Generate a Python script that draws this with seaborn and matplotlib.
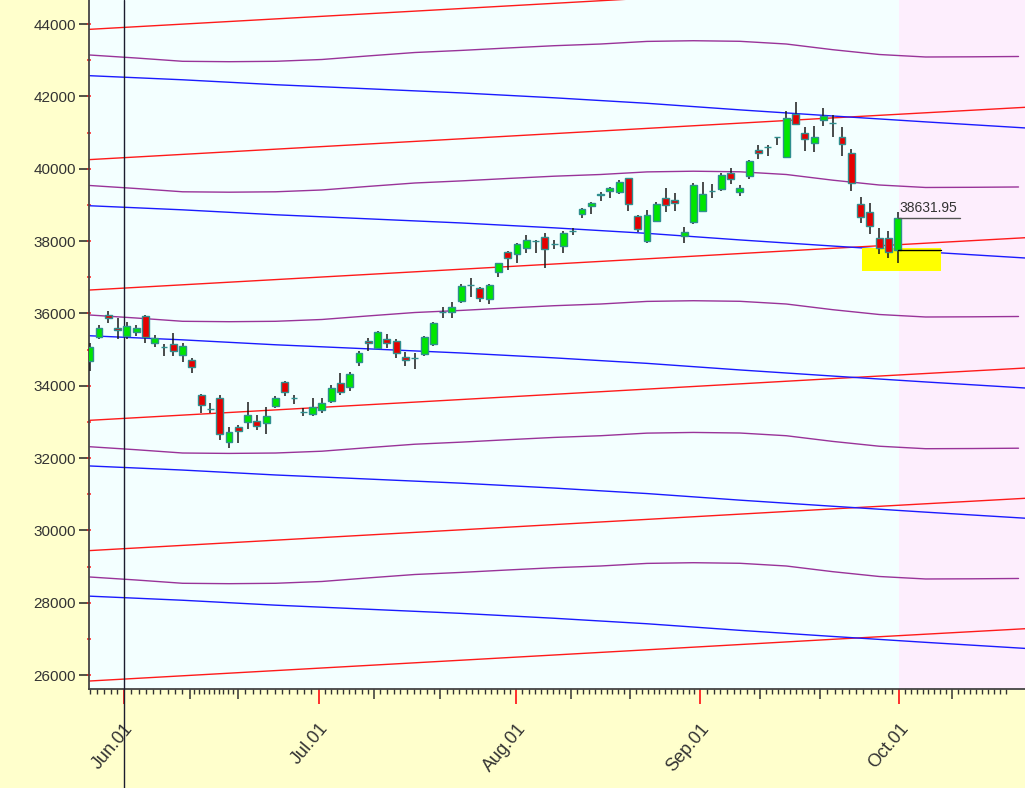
import numpy as np
import pandas as pd
import matplotlib.pyplot as plt
import matplotlib.transforms as mtransforms
from matplotlib.patches import Rectangle
import seaborn as sns

# daily candles, x = session number (0 = first session on the chart)
opens = [34690, 35353, 35954, 35602, 35381, 35492, 35934, 35171, 35062, 35143,
         34848, 34709, 33742, 33356, 33667, 32434, 32865, 33003, 33031, 32976,
         33437, 34109, 33652, 33272, 33208, 33327, 33576, 34081, 33971, 34662,
         35243, 35050, 35290, 35243, 34801, 34757, 34875, 35143, 36043, 36045,
         36349, 36781, 36692, 36388, 37151, 37704, 37632, 37814, 37998, 38119,
         37919, 37861, 38272, 38738, 38968, 39283, 39390, 39346, 39733, 38699,
         38000, 38561, 39180, 39133, 38138, 38533, 38838, 39372, 39429, 39872,
         39363, 39805, 40516, 40588, 40865, 40314, 41511, 40977, 40701, 41345,
         41256, 40884, 40441, 39023, 38810, 38074, 38074, 37751]
highs = [35188, 35677, 36064, 35862, 35752, 35677, 35954, 35400, 35143, 35448,
         35188, 34773, 33761, 33529, 33742, 32865, 32912, 33557, 33188, 33401,
         33714, 34129, 33742, 33374, 33650, 33650, 34018, 34342, 34369, 34967,
         35309, 35511, 35428, 35290, 34939, 34894, 35373, 35769, 36166, 36305,
         36802, 36985, 36720, 36802, 37400, 37723, 37936, 38166, 38027, 38212,
         38027, 38285, 38367, 38904, 39087, 39359, 39501, 39686, 39750, 38719,
         38857, 39087, 39456, 39318, 38377, 39594, 39639, 39576, 39872, 40010,
         39548, 40239, 40654, 40654, 40884, 41594, 41835, 41143, 41179, 41669,
         41483, 41143, 40535, 39207, 39042, 38350, 38276, 38793]
lows = [34413, 35282, 35724, 35282, 35282, 35381, 35171, 35077, 34820, 34828,
        34662, 34342, 33235, 33235, 32497, 32268, 32406, 32801, 32774, 32663,
        33373, 33714, 33485, 33169, 33169, 33235, 33512, 33742, 33861, 34552,
        34967, 35012, 35032, 34755, 34552, 34460, 34820, 35096, 35862, 35862,
        36277, 36459, 36305, 36249, 37013, 37198, 37383, 37677, 37677, 37245,
        37770, 37659, 38166, 38627, 38738, 39114, 39180, 39290, 38840, 38240,
        37936, 38517, 38810, 38829, 37936, 38461, 38794, 39180, 39390, 39567,
        39252, 39714, 40267, 40350, 40654, 40286, 41207, 40497, 40452, 41188,
        40867, 40358, 39390, 38489, 38185, 37632, 37521, 37383]
closes = [35077, 35602, 35879, 35539, 35641, 35602, 35337, 35326, 35057, 34967,
          35088, 34524, 33465, 33352, 32663, 32727, 32746, 33188, 32884, 33161,
          33650, 33833, 33648, 33272, 33419, 33529, 33943, 33833, 34322, 34911,
          35171, 35475, 35188, 34894, 34709, 34753, 35354, 35741, 36047, 36183,
          36755, 36785, 36415, 36783, 37383, 37521, 37908, 38027, 38002, 37770,
          37915, 38229, 38272, 38876, 39059, 39287, 39473, 39639, 39023, 38332,
          38719, 39023, 38995, 39042, 38257, 39548, 39299, 39372, 39825, 39706,
          39473, 40213, 40441, 40592, 40869, 41409, 41235, 40812, 40884, 41456,
          41252, 40682, 39595, 38655, 38414, 37814, 37687, 38631.95]

# x axis: month starts, 10th/20th marks, day marks (session units)
month_pos = [3.69, 24.67, 45.94, 65.73, 87.18]
month_labels = ['Jun.01', 'Jul.01', 'Aug.01', 'Sep.01', 'Oct.01']
mid_pos = [10.76, 15.95, 30.59, 37.76, 51.82, 58.2, 72.19, 78.64, 92.81]
day_anchor_pos = [-5.0, 3.69, 10.76, 15.95, 24.67, 30.59, 37.76, 45.94, 51.82,
                  58.2, 65.73, 72.19, 78.64, 87.18, 92.81, 99.3]
day_counts = [12, 9, 10, 11, 9, 10, 12, 9, 10, 12, 9, 10, 11, 9, 10]

# cycle lines: level of each line at the left edge + the shared drift
red_levels = [43853, 40251, 36645, 33042, 29440, 25834]
purple_levels = [43143, 39535, 35954, 32312, 28710]
blue_levels = [42571, 38975, 35380, 31780, 28180]
red_x = [0, 20, 40, 60, 80, 101]
red_shape = [0, 288, 575, 863, 1153, 1450]
blue_x = [0, 10, 20, 30, 40, 50, 60, 70, 80, 90, 101]
blue_shape = [0, -113, -249, -362, -476, -611, -763, -945, -1114, -1277, -1449]
purple_x = [0, 5, 10, 15, 20, 25, 30, 35, 40, 45, 50, 55, 60, 65, 70, 75, 80,
            85, 90, 95, 100]
purple_shape = [0, -83, -174, -185, -174, -124, -25, 69, 127, 194, 257, 304,
                376, 395, 379, 304, 147, 14, -55, -50, -41]

last_close = 38631.95
zone_x = (83.1, 91.66)
zone_y = (37170, 37800)

sns.set_theme(style='white')
plt.rcParams['font.family'] = ['Liberation Sans', 'DejaVu Sans']

fig = plt.figure(figsize=(10.25, 7.88), dpi=100, facecolor='#ffffcc')
ax = fig.add_axes([89 / 1025, 99 / 788, 1 - 89 / 1025, 689 / 788])
ax.set_facecolor('#f3ffff')
xmin, xmax = -0.075, 100.7
ax.axvspan(month_pos[-1], xmax, color='#fdeefd', lw=0, zorder=0)

# channel lines
rows = []
palette = {}
for fam, levels, xs, shape, col in [('red', red_levels, red_x, red_shape, '#ff1a1a'),
                                    ('purple', purple_levels, purple_x, purple_shape, '#993399'),
                                    ('blue', blue_levels, blue_x, blue_shape, '#1a1aff')]:
    for k, lev in enumerate(levels):
        name = f'{fam}{k}'
        palette[name] = col
        for x, d in zip(xs, shape):
            rows.append({'idx': x, 'price': lev + d, 'line': name})
lines = pd.DataFrame(rows)
sns.lineplot(data=lines, x='idx', y='price', hue='line', palette=palette,
             estimator=None, sort=False, legend=False, lw=1.0, ax=ax, zorder=2)

ax.add_patch(Rectangle((zone_x[0], zone_y[0]), zone_x[1] - zone_x[0],
                       zone_y[1] - zone_y[0], color='#ffff00', lw=0, zorder=3))

# candles
df = pd.DataFrame({'open': opens, 'high': highs, 'low': lows, 'close': closes})
df['idx'] = np.arange(len(df))
up = df['close'] >= df['open']
ax.vlines(df['idx'], df['low'], df['high'], color='#1a1a1a', lw=1.1, zorder=4)
ax.bar(df['idx'], df['close'] - df['open'], bottom=df['open'], width=0.74,
       color=np.where(up, '#00e600', '#e60000'), edgecolor='#2f8f8f', lw=1.0,
       zorder=5)

# last price marker
n = len(df) - 1
ax.plot([n, n + 6.7], [last_close, last_close], color='#555555', lw=1.0, zorder=6)
ax.text(n + 0.15, last_close + 170, f'{last_close:.2f}', fontsize=10,
        color='#333333', va='baseline', ha='left', zorder=6)
ax.plot([n, n + 4.7], [opens[-1], opens[-1]], color='black', lw=1.0, zorder=6)

ax.axvline(month_pos[0], ymin=-0.15, ymax=1, color='#1c1c2e', lw=1.0,
           clip_on=False, zorder=3)

ax.set_xlim(xmin, xmax)
ax.set_ylim(25613, 44664)
ax.set_xlabel('')
ax.set_ylabel('')
ax.grid(False)

yt = list(range(26000, 44001, 2000))
ax.set_yticks(yt)
ax.set_yticks(list(range(26000, 44001, 1000)), minor=True)
ax.yaxis.remove_overlapping_locs = False
ax.tick_params(axis='y', which='major', left=True, length=7.2, width=1.1,
               color='#222222', direction='out', pad=2)
ax.tick_params(axis='y', which='minor', left=True, length=2.8, width=1.1,
               color='#ff2020', direction='inout')
ax.set_yticklabels([str(v) for v in yt], fontsize=11, color='#333333')

ax.set_xticks(month_pos)
ax.set_xticks(mid_pos, minor=True)
ax.tick_params(axis='x', which='major', bottom=True, length=10.8, width=1.3,
               color='#ff2020', direction='out', pad=11.5)
ax.tick_params(axis='x', which='minor', bottom=True, length=7.2, width=1.1,
               color='#333333', direction='out')
ax.set_xticklabels(month_labels, rotation=50, ha='right', va='top',
                   fontsize=13, color='#333333')

day_pos = []
for a, b, c in zip(day_anchor_pos[:-1], day_anchor_pos[1:], day_counts):
    day_pos += [p for p in np.linspace(a, b, c + 1)[1:-1] if xmin < p < xmax]
ax.vlines(day_pos, -0.007, 0, transform=ax.get_xaxis_transform(),
          color='#333333', lw=1.0, clip_on=False)

for side in ['top', 'right']:
    ax.spines[side].set_visible(False)
for side in ['left', 'bottom']:
    ax.spines[side].set_color('#444444')
    ax.spines[side].set_linewidth(1.3)

offset = mtransforms.ScaledTranslation(0.13, 0, fig.dpi_scale_trans)
for lab in ax.get_xticklabels():
    lab.set_transform(lab.get_transform() + offset)

fig.savefig('out.png', dpi=100, facecolor=fig.get_facecolor())
